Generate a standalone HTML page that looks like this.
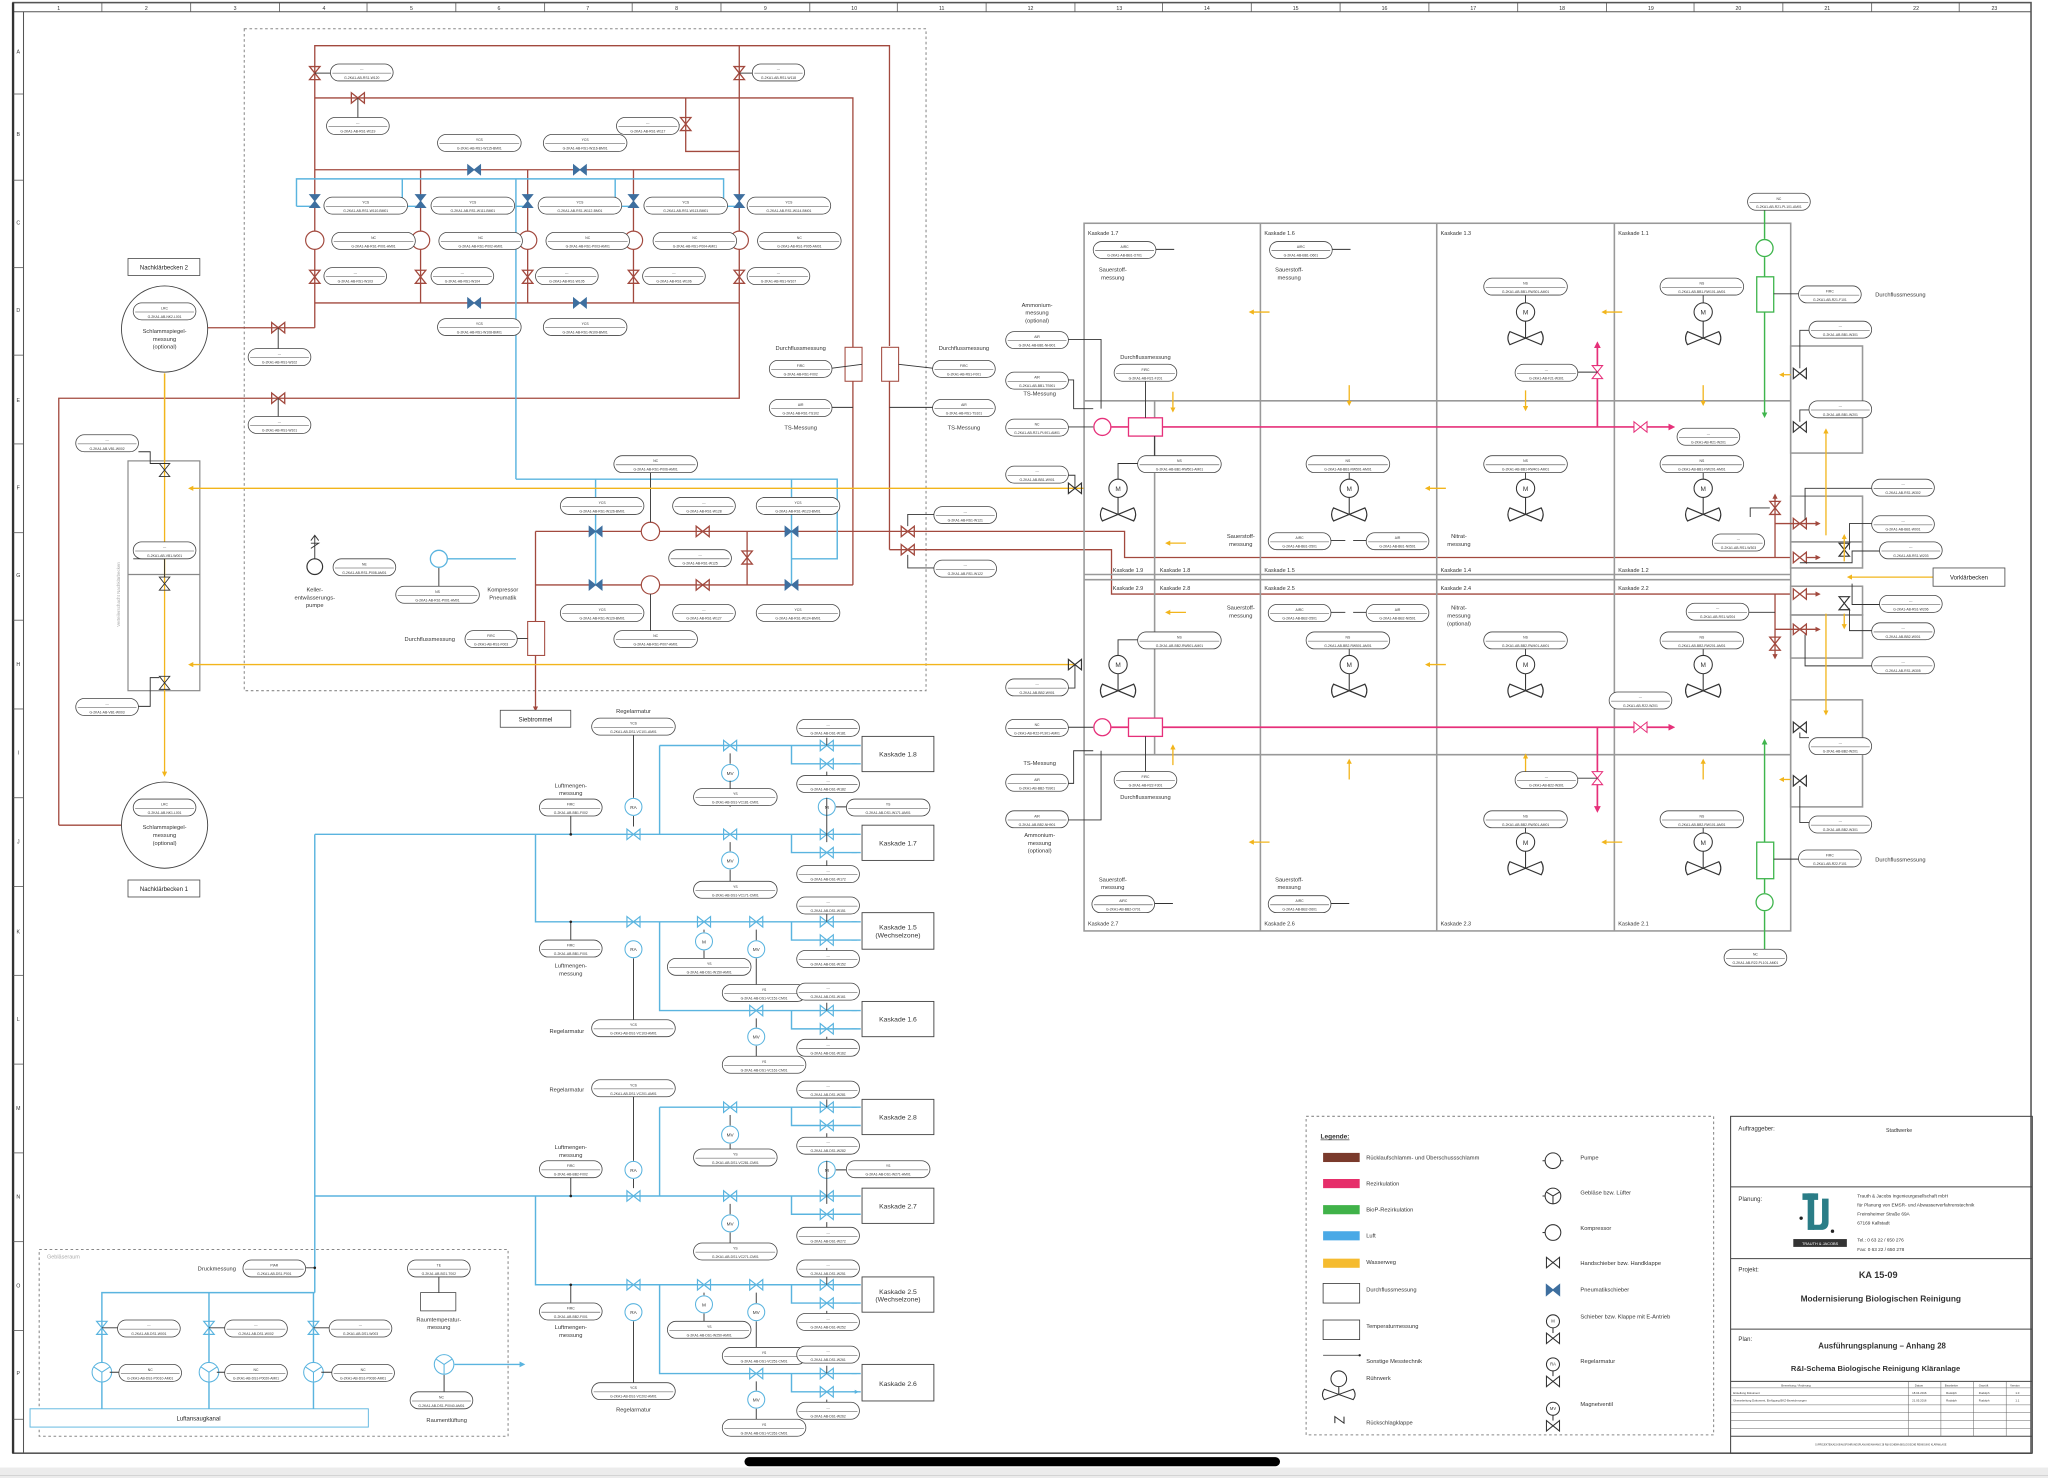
<!DOCTYPE html>
<html><head><meta charset="utf-8"><style>
html,body{margin:0;padding:0;background:#fff;}
svg{display:block;}
text{font-family:"Liberation Sans",sans-serif;fill:#333;}
.s{font-size:2.6px;text-anchor:middle;}
.l{font-size:4.6px;text-anchor:middle;fill:#222;}
.g{font-size:4.2px;fill:#aaa;}
.r{font-size:4.4px;text-anchor:middle;fill:#333;}
.k{font-size:5.2px;text-anchor:middle;fill:#222;}
.br{stroke:#a2493e;fill:none;stroke-width:1;}
.bl{stroke:#5ab4df;fill:none;stroke-width:1.1;}
.ye{stroke:#f2b51c;fill:none;stroke-width:1;}
.pk{stroke:#e6307a;fill:none;stroke-width:1.3;}
.gn{stroke:#3fb54d;fill:none;stroke-width:1.1;}
.gy{stroke:#999;fill:none;stroke-width:1.2;}
.bk{stroke:#333;fill:none;stroke-width:0.7;}
</style></head><body>
<svg width="2048" height="1478" viewBox="0 0 1568 1132" preserveAspectRatio="none" xmlns="http://www.w3.org/2000/svg">
<defs>
<g id="tg"><rect x="0" y="0" width="48" height="13" rx="6.5" fill="#fff" stroke="#444" stroke-width="0.6"/><line x1="1.5" y1="7" x2="46.5" y2="7" stroke="#444" stroke-width="0.4"/></g>
<g id="tg64"><rect x="0" y="0" width="64" height="13" rx="6.5" fill="#fff" stroke="#444" stroke-width="0.6"/><line x1="1.5" y1="7" x2="62.5" y2="7" stroke="#444" stroke-width="0.4"/></g>
<g id="tg40"><rect x="0" y="0" width="40" height="13" rx="6.5" fill="#fff" stroke="#444" stroke-width="0.6"/><line x1="1.5" y1="7" x2="38.5" y2="7" stroke="#444" stroke-width="0.4"/></g>
<path id="vh" d="M-5,-4L5,4V-4L-5,4Z"/>
<path id="vv" d="M-4,-5L4,5H-4L4,-5Z"/>
<g id="ag"><circle cx="0" cy="0" r="7" fill="#fff" stroke="#333" stroke-width="0.8"/><text x="0" y="2" style="font-size:5px;text-anchor:middle">M</text><line x1="0" y1="7" x2="0" y2="20" stroke="#333" stroke-width="0.8"/><path d="M0,20L-12,15Q-15,20 -12,25Z M0,20L12,15Q15,20 12,25Z" fill="none" stroke="#333" stroke-width="0.9"/></g>
<marker id="ay" viewBox="0 0 6 6" refX="3" refY="3" markerWidth="4" markerHeight="4" orient="auto"><path d="M0,0L6,3L0,6Z" fill="#f2b51c"/></marker>
<marker id="ab" viewBox="0 0 6 6" refX="3" refY="3" markerWidth="4" markerHeight="4" orient="auto"><path d="M0,0L6,3L0,6Z" fill="#5ab4df"/></marker>
<marker id="ap" viewBox="0 0 6 6" refX="3" refY="3" markerWidth="4" markerHeight="4" orient="auto"><path d="M0,0L6,3L0,6Z" fill="#e6307a"/></marker>
<marker id="ar" viewBox="0 0 6 6" refX="3" refY="3" markerWidth="4" markerHeight="4" orient="auto"><path d="M0,0L6,3L0,6Z" fill="#a2493e"/></marker>
<marker id="ag2" viewBox="0 0 6 6" refX="3" refY="3" markerWidth="4" markerHeight="4" orient="auto"><path d="M0,0L6,3L0,6Z" fill="#3fb54d"/></marker>
</defs>

<!-- bottom band -->
<rect x="0" y="1124" width="1568" height="8" fill="#ececec"/>
<line x1="0" y1="1130" x2="1568" y2="1130" stroke="#ccc" stroke-width="0.6"/>
<rect x="570" y="1116" width="410" height="7" rx="3.5" fill="#000"/>

<!-- frame -->
<g stroke="#555" fill="none">
<rect x="10" y="2" width="1545" height="1111" stroke-width="1.2"/>
<line x1="10" y1="9" x2="1555" y2="9" stroke-width="0.8"/>
<line x1="18" y1="9" x2="18" y2="1113" stroke-width="0.8"/>
<line x1="10" y1="2" x2="10" y2="1113" stroke-width="1.8" stroke="#333"/>
</g>
<g stroke="#555" stroke-width="0.6">
<line x1="78" y1="2" x2="78" y2="9"/><line x1="146" y1="2" x2="146" y2="9"/><line x1="214" y1="2" x2="214" y2="9"/><line x1="281" y1="2" x2="281" y2="9"/><line x1="349" y1="2" x2="349" y2="9"/><line x1="417" y1="2" x2="417" y2="9"/><line x1="484" y1="2" x2="484" y2="9"/><line x1="552" y1="2" x2="552" y2="9"/><line x1="620" y1="2" x2="620" y2="9"/><line x1="687" y1="2" x2="687" y2="9"/><line x1="755" y1="2" x2="755" y2="9"/><line x1="823" y1="2" x2="823" y2="9"/><line x1="890" y1="2" x2="890" y2="9"/><line x1="958" y1="2" x2="958" y2="9"/><line x1="1026" y1="2" x2="1026" y2="9"/><line x1="1094" y1="2" x2="1094" y2="9"/><line x1="1162" y1="2" x2="1162" y2="9"/><line x1="1230" y1="2" x2="1230" y2="9"/><line x1="1297" y1="2" x2="1297" y2="9"/><line x1="1365" y1="2" x2="1365" y2="9"/><line x1="1433" y1="2" x2="1433" y2="9"/><line x1="1500" y1="2" x2="1500" y2="9"/>
<line x1="10" y1="72" x2="18" y2="72"/><line x1="10" y1="138" x2="18" y2="138"/><line x1="10" y1="205" x2="18" y2="205"/><line x1="10" y1="272" x2="18" y2="272"/><line x1="10" y1="340" x2="18" y2="340"/><line x1="10" y1="408" x2="18" y2="408"/><line x1="10" y1="475" x2="18" y2="475"/><line x1="10" y1="543" x2="18" y2="543"/><line x1="10" y1="611" x2="18" y2="611"/><line x1="10" y1="679" x2="18" y2="679"/><line x1="10" y1="747" x2="18" y2="747"/><line x1="10" y1="815" x2="18" y2="815"/><line x1="10" y1="883" x2="18" y2="883"/><line x1="10" y1="951" x2="18" y2="951"/><line x1="10" y1="1019" x2="18" y2="1019"/><line x1="10" y1="1087" x2="18" y2="1087"/>
</g>
<g style="font-size:4px;text-anchor:middle">
<text x="45" y="7.5">1</text><text x="112" y="7.5">2</text><text x="180" y="7.5">3</text><text x="248" y="7.5">4</text><text x="315" y="7.5">5</text><text x="382" y="7.5">6</text><text x="450" y="7.5">7</text><text x="518" y="7.5">8</text><text x="586" y="7.5">9</text><text x="654" y="7.5">10</text><text x="721" y="7.5">11</text><text x="789" y="7.5">12</text><text x="857" y="7.5">13</text><text x="924" y="7.5">14</text><text x="992" y="7.5">15</text><text x="1060" y="7.5">16</text><text x="1128" y="7.5">17</text><text x="1196" y="7.5">18</text><text x="1264" y="7.5">19</text><text x="1331" y="7.5">20</text><text x="1399" y="7.5">21</text><text x="1467" y="7.5">22</text><text x="1527" y="7.5">23</text>
<text x="14" y="41">A</text><text x="14" y="104">B</text><text x="14" y="172">C</text><text x="14" y="239">D</text><text x="14" y="308">E</text><text x="14" y="375">F</text><text x="14" y="442">G</text><text x="14" y="510">H</text><text x="14" y="578">I</text><text x="14" y="646">J</text><text x="14" y="715">K</text><text x="14" y="782">L</text><text x="14" y="850">M</text><text x="14" y="918">N</text><text x="14" y="986">O</text><text x="14" y="1053">P</text>
</g>

<!-- ================= RS1 dashed area ================= -->
<rect x="187" y="22" width="522" height="507" fill="none" stroke="#888" stroke-width="0.8" stroke-dasharray="2,2"/>

<!-- brown lines top -->
<g class="br">
<path d="M241,251V35H681V265M681,292V421"/>
<path d="M566,35V232"/>
<path d="M241,75H653V266M653,292V448"/>
<path d="M525,75V116H566"/>
<path d="M241,130H566"/>
<path d="M241,232H566"/>
<line x1="322" y1="130" x2="322" y2="232"/><line x1="404" y1="130" x2="404" y2="232"/><line x1="485" y1="130" x2="485" y2="232"/>
<path d="M159,251H241"/>
<path d="M45,632V305H566V232"/>
<path d="M45,632H93"/>
<path d="M410,407V476M410,502V540"/>
<path d="M410,407H861V427H1371"/>
<path d="M410,448H653"/>
<path d="M681,421H851V455H1371"/>
<path d="M572,407V448"/>
</g>
<!-- flow meters -->
<rect x="647" y="266" width="13" height="26" fill="#fff" stroke="#a2493e" stroke-width="0.8"/>
<rect x="675" y="266" width="13" height="26" fill="#fff" stroke="#a2493e" stroke-width="0.8"/>
<rect x="404" y="476" width="13" height="26" fill="#fff" stroke="#a2493e" stroke-width="0.8"/>
<line x1="410" y1="540" x2="410" y2="543" stroke="#a2493e" marker-end="url(#ar)"/>
<!-- brown valves -->
<g class="br" fill="#fff">
<use href="#vv" x="241" y="56"/><use href="#vv" x="566" y="56"/>
<use href="#vh" x="274" y="75"/><use href="#vv" x="525" y="95"/>
<use href="#vv" x="241" y="212"/><use href="#vv" x="322" y="212"/><use href="#vv" x="404" y="212"/><use href="#vv" x="485" y="212"/><use href="#vv" x="566" y="212"/>
<use href="#vh" x="213" y="251"/><use href="#vh" x="213" y="305"/>
<use href="#vh" x="538" y="407"/><use href="#vh" x="538" y="448"/><use href="#vv" x="572" y="427"/>
<use href="#vh" x="695" y="407"/><use href="#vh" x="695" y="421"/>
</g>
<!-- pumps -->
<g fill="#fff" stroke="#a2493e" stroke-width="0.9">
<circle cx="241" cy="184" r="7"/><circle cx="322" cy="184" r="7"/><circle cx="404" cy="184" r="7"/><circle cx="485" cy="184" r="7"/><circle cx="566" cy="184" r="7"/>
<circle cx="498" cy="407" r="7"/><circle cx="498" cy="448" r="7"/>
</g>
<!-- blue air lines top -->
<g class="bl">
<path d="M227,158V137H554V158"/>
<path d="M308,137V158M395,137V367M471,137V158"/>
<path d="M227,158H241M308,158H322M395,158H404M471,158H485M554,158H566"/>
<path d="M395,367H641V428H606"/>
<path d="M456,367V448M606,367V448"/>
<path d="M342,428H395"/>
<path d="M241,639V990"/>
</g>
<circle cx="336" cy="428" r="6.5" fill="#fff" stroke="#5ab4df" stroke-width="1"/>
<!-- pneumatic valves -->
<g fill="#3e6f9f" stroke="#3e6f9f" stroke-width="0.6">
<use href="#vh" x="363" y="130"/><use href="#vh" x="444" y="130"/><use href="#vh" x="363" y="232"/><use href="#vh" x="444" y="232"/>
<use href="#vv" x="241" y="154"/><use href="#vv" x="322" y="154"/><use href="#vv" x="404" y="154"/><use href="#vv" x="485" y="154"/><use href="#vv" x="566" y="154"/>
<use href="#vh" x="456" y="407"/><use href="#vh" x="606" y="407"/><use href="#vh" x="456" y="448"/><use href="#vh" x="606" y="448"/>
</g>
<!-- keller pump -->
<circle cx="241" cy="434" r="6" fill="#fff" stroke="#333" stroke-width="0.9"/>
<path d="M241,428V410M238,414L241,410L244,414M238,420L244,416L238,416" class="bk"/>
<text class="r" x="241" y="453">Keller-</text><text class="r" x="241" y="459">entwässerungs-</text><text class="r" x="241" y="465">pumpe</text>
<text class="r" x="385" y="453">Kompressor</text><text class="r" x="385" y="459">Pneumatik</text>

<!-- tag lines top -->
<g class="bk">
<line x1="241" y1="56" x2="253" y2="56"/><line x1="566" y1="56" x2="576" y2="56"/>
<line x1="274" y1="75" x2="274" y2="90"/><line x1="520" y1="95" x2="520" y2="96"/>
<line x1="213" y1="251" x2="213" y2="267"/><line x1="213" y1="305" x2="213" y2="319"/>
<line x1="498" y1="362" x2="498" y2="400"/><line x1="498" y1="455" x2="498" y2="483"/>
<line x1="660" y1="279" x2="637" y2="282"/><line x1="688" y1="279" x2="714" y2="282"/>
<line x1="637" y1="312" x2="653" y2="312"/><line x1="681" y1="312" x2="714" y2="312"/>
<line x1="396" y1="489" x2="404" y2="489"/>
<line x1="336" y1="435" x2="336" y2="449"/>
</g>

<!-- tags RS1 -->
<g transform="translate(253,49)"><use href="#tg"/><text class="s" x="24" y="5">---</text><text class="s" x="24" y="11.5">G-2KA1-AB-RS1-W120</text></g>
<g transform="translate(576,49)"><use href="#tg40"/><text class="s" x="20" y="5">---</text><text class="s" x="20" y="11.5">G-2KA1-AB-RS1-W118</text></g>
<g transform="translate(250,90)"><use href="#tg"/><text class="s" x="24" y="5">---</text><text class="s" x="24" y="11.5">G-2KA1-AB-RS1-W119</text></g>
<g transform="translate(472,90)"><use href="#tg"/><text class="s" x="24" y="5">---</text><text class="s" x="24" y="11.5">G-2KA1-AB-RS1-W117</text></g>
<g transform="translate(335,103)"><use href="#tg64"/><text class="s" x="32" y="5">YCS</text><text class="s" x="32" y="11.5">G-2KA1-AB-RS1-W115-BM01</text></g>
<g transform="translate(416,103)"><use href="#tg64"/><text class="s" x="32" y="5">YCS</text><text class="s" x="32" y="11.5">G-2KA1-AB-RS1-W116-BM01</text></g>
<g transform="translate(248,151)"><use href="#tg64"/><text class="s" x="32" y="5">YCS</text><text class="s" x="32" y="11.5">G-2KA1-AB-RS1-W110-BM01</text></g>
<g transform="translate(330,151)"><use href="#tg64"/><text class="s" x="32" y="5">YCS</text><text class="s" x="32" y="11.5">G-2KA1-AB-RS1-W111-BM01</text></g>
<g transform="translate(412,151)"><use href="#tg64"/><text class="s" x="32" y="5">YCS</text><text class="s" x="32" y="11.5">G-2KA1-AB-RS1-W112-BM01</text></g>
<g transform="translate(493,151)"><use href="#tg64"/><text class="s" x="32" y="5">YCS</text><text class="s" x="32" y="11.5">G-2KA1-AB-RS1-W113-BM01</text></g>
<g transform="translate(572,151)"><use href="#tg64"/><text class="s" x="32" y="5">YCS</text><text class="s" x="32" y="11.5">G-2KA1-AB-RS1-W114-BM01</text></g>
<g transform="translate(254,178)"><use href="#tg64"/><text class="s" x="32" y="5">NC</text><text class="s" x="32" y="11.5">G-2KA1-AB-RS1-P001-AM01</text></g>
<g transform="translate(336,178)"><use href="#tg64"/><text class="s" x="32" y="5">NC</text><text class="s" x="32" y="11.5">G-2KA1-AB-RS1-P002-AM01</text></g>
<g transform="translate(418,178)"><use href="#tg64"/><text class="s" x="32" y="5">NC</text><text class="s" x="32" y="11.5">G-2KA1-AB-RS1-P003-AM01</text></g>
<g transform="translate(500,178)"><use href="#tg64"/><text class="s" x="32" y="5">NC</text><text class="s" x="32" y="11.5">G-2KA1-AB-RS1-P004-AM01</text></g>
<g transform="translate(580,178)"><use href="#tg64"/><text class="s" x="32" y="5">NC</text><text class="s" x="32" y="11.5">G-2KA1-AB-RS1-P005-AM01</text></g>
<g transform="translate(248,205)"><use href="#tg"/><text class="s" x="24" y="5">---</text><text class="s" x="24" y="11.5">G-2KA1-AB-RS1-W103</text></g>
<g transform="translate(330,205)"><use href="#tg"/><text class="s" x="24" y="5">---</text><text class="s" x="24" y="11.5">G-2KA1-AB-RS1-W104</text></g>
<g transform="translate(410,205)"><use href="#tg"/><text class="s" x="24" y="5">---</text><text class="s" x="24" y="11.5">G-2KA1-AB-RS1-W105</text></g>
<g transform="translate(492,205)"><use href="#tg"/><text class="s" x="24" y="5">---</text><text class="s" x="24" y="11.5">G-2KA1-AB-RS1-W106</text></g>
<g transform="translate(572,205)"><use href="#tg"/><text class="s" x="24" y="5">---</text><text class="s" x="24" y="11.5">G-2KA1-AB-RS1-W107</text></g>
<g transform="translate(335,244)"><use href="#tg64"/><text class="s" x="32" y="5">YCS</text><text class="s" x="32" y="11.5">G-2KA1-AB-RS1-W108-BM01</text></g>
<g transform="translate(416,244)"><use href="#tg64"/><text class="s" x="32" y="5">YCS</text><text class="s" x="32" y="11.5">G-2KA1-AB-RS1-W109-BM01</text></g>
<g transform="translate(190,267)"><use href="#tg"/><text class="s" x="24" y="5">---</text><text class="s" x="24" y="11.5">G-2KA1-AB-RS1-W102</text></g>
<g transform="translate(190,319)"><use href="#tg"/><text class="s" x="24" y="5">---</text><text class="s" x="24" y="11.5">G-2KA1-AB-RS1-W101</text></g>
<g transform="translate(589,276)"><use href="#tg"/><text class="s" x="24" y="5">FIRC</text><text class="s" x="24" y="11.5">G-2KA1-AB-RS1-F002</text></g>
<g transform="translate(589,306)"><use href="#tg"/><text class="s" x="24" y="5">AIR</text><text class="s" x="24" y="11.5">G-2KA1-AB-RS1-TS102</text></g>
<g transform="translate(714,276)"><use href="#tg"/><text class="s" x="24" y="5">FIRC</text><text class="s" x="24" y="11.5">G-2KA1-AB-RS1-F001</text></g>
<g transform="translate(714,306)"><use href="#tg"/><text class="s" x="24" y="5">AIR</text><text class="s" x="24" y="11.5">G-2KA1-AB-RS1-TS101</text></g>
<text class="r" x="613" y="268">Durchflussmessung</text><text class="r" x="738" y="268">Durchflussmessung</text>
<text class="r" x="613" y="329">TS-Messung</text><text class="r" x="738" y="329">TS-Messung</text>
<g transform="translate(470,349)"><use href="#tg64"/><text class="s" x="32" y="5">NC</text><text class="s" x="32" y="11.5">G-2KA1-AB-RS1-P006-AM01</text></g>
<g transform="translate(429,381)"><use href="#tg64"/><text class="s" x="32" y="5">YCS</text><text class="s" x="32" y="11.5">G-2KA1-AB-RS1-W126-BM01</text></g>
<g transform="translate(515,381)"><use href="#tg"/><text class="s" x="24" y="5">---</text><text class="s" x="24" y="11.5">G-2KA1-AB-RS1-W128</text></g>
<g transform="translate(579,381)"><use href="#tg64"/><text class="s" x="32" y="5">YCS</text><text class="s" x="32" y="11.5">G-2KA1-AB-RS1-W123-BM01</text></g>
<g transform="translate(512,421)"><use href="#tg"/><text class="s" x="24" y="5">---</text><text class="s" x="24" y="11.5">G-2KA1-AB-RS1-W125</text></g>
<g transform="translate(429,463)"><use href="#tg64"/><text class="s" x="32" y="5">YCS</text><text class="s" x="32" y="11.5">G-2KA1-AB-RS1-W129-BM01</text></g>
<g transform="translate(515,463)"><use href="#tg"/><text class="s" x="24" y="5">---</text><text class="s" x="24" y="11.5">G-2KA1-AB-RS1-W127</text></g>
<g transform="translate(579,463)"><use href="#tg64"/><text class="s" x="32" y="5">YCS</text><text class="s" x="32" y="11.5">G-2KA1-AB-RS1-W124-BM01</text></g>
<g transform="translate(470,483)"><use href="#tg64"/><text class="s" x="32" y="5">NC</text><text class="s" x="32" y="11.5">G-2KA1-AB-RS1-P007-AM01</text></g>
<g transform="translate(255,428)"><use href="#tg"/><text class="s" x="24" y="5">NE</text><text class="s" x="24" y="11.5">G-2KA1-AB-RS1-P008-AM01</text></g>
<g transform="translate(303,449)"><use href="#tg64"/><text class="s" x="32" y="5">NS</text><text class="s" x="32" y="11.5">G-2KA1-AB-RS1-P001-AM01</text></g>
<g transform="translate(356,483)"><use href="#tg40"/><text class="s" x="20" y="5">FIRC</text><text class="s" x="20" y="11.5">G-2KA1-AB-RS1-F003</text></g>
<text class="r" x="329" y="491">Durchflussmessung</text>
<g transform="translate(715,388)"><use href="#tg"/><text class="s" x="24" y="5">---</text><text class="s" x="24" y="11.5">G-2KA1-AB-RS1-W121</text></g>
<g transform="translate(715,429)"><use href="#tg"/><text class="s" x="24" y="5">---</text><text class="s" x="24" y="11.5">G-2KA1-AB-RS1-W122</text></g>
<path d="M695,403V394H715M695,425V435H715" class="bk"/>

<!-- Siebtrommel -->
<rect x="383" y="544" width="54" height="13" fill="#fff" stroke="#444" stroke-width="0.6"/>
<text class="l" x="410" y="552.5">Siebtrommel</text>

<!-- Nachklärbecken left -->
<rect x="98" y="198" width="55" height="13" fill="#fff" stroke="#444" stroke-width="0.6"/><text class="l" x="125.5" y="206.5">Nachklärbecken 2</text>
<circle cx="126" cy="252" r="33" fill="#fff" stroke="#444" stroke-width="0.7"/>
<g transform="translate(102,232)"><use href="#tg"/><text class="s" x="24" y="5">LRC</text><text class="s" x="24" y="11.5">G-2KA1-AB-NK2-L001</text></g>
<text class="r" x="126" y="255">Schlammspiegel-</text><text class="r" x="126" y="261">messung</text><text class="r" x="126" y="267">(optional)</text>
<rect x="98" y="674" width="55" height="13" fill="#fff" stroke="#444" stroke-width="0.6"/><text class="l" x="125.5" y="682.5">Nachklärbecken 1</text>
<circle cx="126" cy="632" r="33" fill="#fff" stroke="#444" stroke-width="0.7"/>
<g transform="translate(102,612)"><use href="#tg"/><text class="s" x="24" y="5">LRC</text><text class="s" x="24" y="11.5">G-2KA1-AB-NK1-L001</text></g>
<text class="r" x="126" y="635">Schlammspiegel-</text><text class="r" x="126" y="641">messung</text><text class="r" x="126" y="647">(optional)</text>
<!-- verteilerschacht -->
<rect x="98" y="353" width="55" height="176" fill="none" stroke="#888" stroke-width="0.9"/>
<line x1="98" y1="440" x2="153" y2="440" stroke="#888" stroke-width="0.9"/>
<text class="g" transform="translate(92,480) rotate(-90)" style="font-size:3.4px">Verteilerschacht Nachklärbecken</text>
<g class="ye"><path d="M126,286V529M126,529V593" marker-end="url(#ay)"/><path d="M126,286V353"/></g>
<line x1="830" y1="374" x2="146" y2="374" class="ye" marker-end="url(#ay)"/>
<line x1="823" y1="509" x2="146" y2="509" class="ye" marker-end="url(#ay)"/>
<g class="bk" fill="#fff"><use href="#vv" x="126" y="360"/><use href="#vv" x="126" y="447"/><use href="#vv" x="126" y="523"/></g>
<path d="M106,346H115V355H122M102,428H126V442M106,541H115V519H122" class="bk"/>
<g transform="translate(58,333)"><use href="#tg"/><text class="s" x="24" y="5">---</text><text class="s" x="24" y="11.5">G-2KA1-AB-VB1-W002</text></g>
<g transform="translate(102,415)"><use href="#tg"/><text class="s" x="24" y="5">---</text><text class="s" x="24" y="11.5">G-2KA1-AB-VB1-W001</text></g>
<g transform="translate(58,535)"><use href="#tg"/><text class="s" x="24" y="5">---</text><text class="s" x="24" y="11.5">G-2KA1-AB-VB1-W003</text></g>

<!-- ================= Cascade grid ================= -->
<g class="gy">
<rect x="830" y="171" width="541" height="542"/>
<line x1="965" y1="171" x2="965" y2="713"/><line x1="1100" y1="171" x2="1100" y2="713"/><line x1="1236" y1="171" x2="1236" y2="713"/>
<line x1="830" y1="307" x2="1371" y2="307"/><line x1="830" y1="440" x2="1371" y2="440"/><line x1="830" y1="444" x2="1371" y2="444"/><line x1="830" y1="578" x2="1371" y2="578"/>
<line x1="884" y1="307" x2="884" y2="578"/>
<rect x="1371" y="265" width="55" height="82"/><rect x="1371" y="380" width="55" height="35"/><rect x="1371" y="415" width="55" height="20"/>
<rect x="1371" y="449" width="55" height="22"/><rect x="1371" y="471" width="55" height="33"/><rect x="1371" y="536" width="55" height="82"/>
</g>
<g class="g">
<text x="833" y="180">Kaskade 1.7</text><text x="968" y="180">Kaskade 1.6</text><text x="1103" y="180">Kaskade 1.3</text><text x="1239" y="180">Kaskade 1.1</text>
<text x="852" y="438">Kaskade 1.9</text><text x="888" y="438">Kaskade 1.8</text><text x="968" y="438">Kaskade 1.5</text><text x="1103" y="438">Kaskade 1.4</text><text x="1239" y="438">Kaskade 1.2</text>
<text x="852" y="452">Kaskade 2.9</text><text x="888" y="452">Kaskade 2.8</text><text x="968" y="452">Kaskade 2.5</text><text x="1103" y="452">Kaskade 2.4</text><text x="1239" y="452">Kaskade 2.2</text>
<text x="833" y="709">Kaskade 2.7</text><text x="968" y="709">Kaskade 2.6</text><text x="1103" y="709">Kaskade 2.3</text><text x="1239" y="709">Kaskade 2.1</text>
</g>
<!-- pink recirculation -->
<g class="pk">
<path d="M851,327H864M890,327H1280" marker-end="url(#ap)"/>
<path d="M1223,327V264" marker-end="url(#ap)"/>
<path d="M851,557H864M890,557H1280" marker-end="url(#ap)"/>
<path d="M1223,557V620" marker-end="url(#ap)"/>
</g>
<circle cx="844" cy="327" r="6.5" fill="#fff" stroke="#e6307a" stroke-width="1"/>
<circle cx="844" cy="557" r="6.5" fill="#fff" stroke="#e6307a" stroke-width="1"/>
<rect x="864" y="320" width="26" height="14" fill="#fff" stroke="#e6307a" stroke-width="1"/>
<rect x="864" y="550" width="26" height="14" fill="#fff" stroke="#e6307a" stroke-width="1"/>
<g stroke="#e6307a" fill="#fff" stroke-width="0.8"><use href="#vh" x="1256" y="327"/><use href="#vh" x="1256" y="557"/><use href="#vv" x="1223" y="285"/><use href="#vv" x="1223" y="596"/></g>
<!-- green -->
<g class="gn">
<path d="M1351,159V183M1351,197V212M1351,239V318" marker-end="url(#ag2)"/>
<path d="M1351,727V698M1351,684V673M1351,645V568" marker-end="url(#ag2)"/>
</g>
<circle cx="1351" cy="190" r="6.5" fill="#fff" stroke="#3fb54d" stroke-width="1"/>
<circle cx="1351" cy="691" r="6.5" fill="#fff" stroke="#3fb54d" stroke-width="1"/>
<rect x="1345" y="212" width="13" height="27" fill="#fff" stroke="#3fb54d" stroke-width="1"/>
<rect x="1345" y="645" width="13" height="28" fill="#fff" stroke="#3fb54d" stroke-width="1"/>
<!-- agitators -->
<use href="#ag" x="1168" y="239"/><use href="#ag" x="1304" y="239"/>
<use href="#ag" x="856" y="374"/><use href="#ag" x="1033" y="374"/><use href="#ag" x="1168" y="374"/><use href="#ag" x="1304" y="374"/>
<use href="#ag" x="856" y="509"/><use href="#ag" x="1033" y="509"/><use href="#ag" x="1168" y="509"/><use href="#ag" x="1304" y="509"/>
<use href="#ag" x="1168" y="645"/><use href="#ag" x="1304" y="645"/>
<g class="bk">
<line x1="1168" y1="226" x2="1168" y2="232"/><line x1="1304" y1="226" x2="1304" y2="232"/>
<path d="M871,355H856V367M1033,362V367M1168,362V367M1304,362V367"/>
<path d="M871,490H856V502M1033,497V502M1168,497V502M1304,497V502"/>
<line x1="1168" y1="634" x2="1168" y2="638"/><line x1="1304" y1="634" x2="1304" y2="638"/>
<line x1="877" y1="292" x2="877" y2="320"/><line x1="877" y1="564" x2="877" y2="591"/><line x1="884" y1="334" x2="884" y2="349"/>
<line x1="885" y1="191" x2="899" y2="191"/><line x1="1020" y1="191" x2="1034" y2="191"/>
<line x1="884" y1="692" x2="898" y2="692"/><line x1="1019" y1="692" x2="1033" y2="692"/>
<line x1="1019" y1="414" x2="1030" y2="414"/><line x1="1036" y1="414" x2="1046" y2="414"/>
<line x1="1019" y1="469" x2="1030" y2="469"/><line x1="1036" y1="469" x2="1046" y2="469"/>
<line x1="1358" y1="225" x2="1377" y2="225"/><line x1="1358" y1="658" x2="1377" y2="658"/>
<path d="M1351,159V161"/>
<path d="M818,260H843V313M818,291H822V313H837M818,327H837M818,364H823V374M818,527H823V509"/>
<path d="M818,557H837M818,600H822V575H837M818,628H843V575"/>
<path d="M1208,285H1223M1208,596H1223"/>
</g>
<!-- black valves in grid edges -->
<g class="bk" fill="#fff" style="stroke-width:0.9">
<use href="#vh" x="823" y="374"/><use href="#vh" x="823" y="509"/>
<use href="#vh" x="1378" y="286"/><use href="#vh" x="1378" y="327"/><use href="#vh" x="1378" y="557"/><use href="#vh" x="1378" y="598"/>
<use href="#vv" x="1412" y="421"/><use href="#vv" x="1412" y="462"/>
</g>
<path d="M1385,253H1378V282M1385,314H1378V323M1385,565H1378V561M1385,630H1378V602" class="bk"/>
<!-- brown right valves -->
<g class="br" fill="#fff">
<use href="#vh" x="1378" y="401"/><use href="#vh" x="1378" y="427"/><use href="#vh" x="1378" y="455"/><use href="#vh" x="1378" y="482"/>
<use href="#vv" x="1359" y="389"/><use href="#vv" x="1359" y="493"/>
</g>
<g class="br">
<path d="M1359,427V380" marker-end="url(#ar)"/><path d="M1359,455V503" marker-end="url(#ar)"/>
<path d="M1359,401H1392" marker-end="url(#ar)"/><path d="M1383,427H1392" marker-end="url(#ar)"/>
<path d="M1383,455H1392" marker-end="url(#ar)"/><path d="M1359,482H1392" marker-end="url(#ar)"/>
</g>
<path d="M1433,374H1382V398M1433,401H1416V421M1439,422H1418V431H1378M1439,463H1418V447M1433,483H1416V466M1433,510H1382V486M1340,396V389H1355M1335,469H1359" class="bk"/>
<!-- yellow right -->
<g class="ye">
<path d="M1480,442H1416" marker-end="url(#ay)"/>
<path d="M1398,410V330" marker-end="url(#ay)"/>
<path d="M1398,470V546" marker-end="url(#ay)"/>
<path d="M1412,430V411" marker-end="url(#ay)"/>
<path d="M1412,470V480" marker-end="url(#ay)"/>
<path d="M1371,287H1364" marker-end="url(#ay)"/>
<path d="M1371,597H1364" marker-end="url(#ay)"/>
</g>
<!-- yellow arrows in cells -->
<g class="ye">
<path d="M972,239H958" marker-end="url(#ay)"/><path d="M1242,239H1228" marker-end="url(#ay)"/>
<path d="M1107,374H1093" marker-end="url(#ay)"/><path d="M908,416H894" marker-end="url(#ay)"/>
<path d="M908,469H894" marker-end="url(#ay)"/><path d="M1107,509H1093" marker-end="url(#ay)"/>
<path d="M972,645H958" marker-end="url(#ay)"/><path d="M1242,645H1228" marker-end="url(#ay)"/>
<path d="M1033,295V309" marker-end="url(#ay)"/><path d="M1168,299V313" marker-end="url(#ay)"/><path d="M1304,295V309" marker-end="url(#ay)"/>
<path d="M898,300V314" marker-end="url(#ay)"/>
<path d="M898,586V572" marker-end="url(#ay)"/><path d="M1033,597V583" marker-end="url(#ay)"/><path d="M1168,593V579" marker-end="url(#ay)"/><path d="M1304,597V583" marker-end="url(#ay)"/>
</g>
<!-- Vorklärbecken -->
<rect x="1480" y="435" width="55" height="14" fill="#fff" stroke="#444" stroke-width="0.6"/><text class="l" x="1507.5" y="444">Vorklärbecken</text>
<!-- grid tags -->
<g transform="translate(837,185)"><use href="#tg"/><text class="s" x="24" y="5">AIRC</text><text class="s" x="24" y="11.5">G-2KA1-AB-BB1-O701</text></g>
<g transform="translate(972,185)"><use href="#tg"/><text class="s" x="24" y="5">AIRC</text><text class="s" x="24" y="11.5">G-2KA1-AB-BB1-O601</text></g>
<text class="r" x="852" y="208">Sauerstoff-</text><text class="r" x="852" y="214">messung</text>
<text class="r" x="987" y="208">Sauerstoff-</text><text class="r" x="987" y="214">messung</text>
<g transform="translate(1136,213)"><use href="#tg64"/><text class="s" x="32" y="5">NS</text><text class="s" x="32" y="11.5">G-2KA1-AB-BB1-RW301-AM01</text></g>
<g transform="translate(1271,213)"><use href="#tg64"/><text class="s" x="32" y="5">NS</text><text class="s" x="32" y="11.5">G-2KA1-AB-BB1-RW101-AM01</text></g>
<g transform="translate(1338,148)"><use href="#tg"/><text class="s" x="24" y="5">NC</text><text class="s" x="24" y="11.5">G-2KA1-AB-R21-PL101-AM01</text></g>
<g transform="translate(1377,219)"><use href="#tg"/><text class="s" x="24" y="5">FIRC</text><text class="s" x="24" y="11.5">G-2KA1-AB-R21-F101</text></g>
<text class="r" x="1455" y="227">Durchflussmessung</text>
<g transform="translate(1385,246)"><use href="#tg"/><text class="s" x="24" y="5">---</text><text class="s" x="24" y="11.5">G-2KA1-AB-BB1-W301</text></g>
<g transform="translate(1385,307)"><use href="#tg"/><text class="s" x="24" y="5">---</text><text class="s" x="24" y="11.5">G-2KA1-AB-BB1-W201</text></g>
<g transform="translate(853,279)"><use href="#tg"/><text class="s" x="24" y="5">FIRC</text><text class="s" x="24" y="11.5">G-2KA1-AB-R21-F201</text></g>
<text class="r" x="877" y="275">Durchflussmessung</text>
<g transform="translate(1160,279)"><use href="#tg"/><text class="s" x="24" y="5">---</text><text class="s" x="24" y="11.5">G-2KA1-AB-F21-W301</text></g>
<g transform="translate(1284,328)"><use href="#tg"/><text class="s" x="24" y="5">---</text><text class="s" x="24" y="11.5">G-2KA1-AB-R21-W201</text></g>
<g transform="translate(871,349)"><use href="#tg64"/><text class="s" x="32" y="5">NS</text><text class="s" x="32" y="11.5">G-2KA1-AB-BB1-RW501-AM01</text></g>
<g transform="translate(1000,349)"><use href="#tg64"/><text class="s" x="32" y="5">NS</text><text class="s" x="32" y="11.5">G-2KA1-AB-BB1-RW501-AM01</text></g>
<g transform="translate(1136,349)"><use href="#tg64"/><text class="s" x="32" y="5">NS</text><text class="s" x="32" y="11.5">G-2KA1-AB-BB1-RW401-AM01</text></g>
<g transform="translate(1271,349)"><use href="#tg64"/><text class="s" x="32" y="5">NS</text><text class="s" x="32" y="11.5">G-2KA1-AB-BB1-RW201-AM01</text></g>
<g transform="translate(971,408)"><use href="#tg"/><text class="s" x="24" y="5">AIRC</text><text class="s" x="24" y="11.5">G-2KA1-AB-BB1-O501</text></g>
<g transform="translate(1046,408)"><use href="#tg"/><text class="s" x="24" y="5">AIR</text><text class="s" x="24" y="11.5">G-2KA1-AB-BB1-N0501</text></g>
<text class="r" x="950" y="412">Sauerstoff-</text><text class="r" x="950" y="418">messung</text>
<text class="r" x="1117" y="412">Nitrat-</text><text class="r" x="1117" y="418">messung</text>
<g transform="translate(1311,409)"><use href="#tg40"/><text class="s" x="20" y="5">---</text><text class="s" x="20" y="11.5">G-2KA1-AB-RS1-W303</text></g>
<g transform="translate(1433,367)"><use href="#tg"/><text class="s" x="24" y="5">---</text><text class="s" x="24" y="11.5">G-2KA1-AB-RS1-W302</text></g>
<g transform="translate(1433,395)"><use href="#tg"/><text class="s" x="24" y="5">---</text><text class="s" x="24" y="11.5">G-2KA1-AB-BB1-W001</text></g>
<g transform="translate(1439,415)"><use href="#tg"/><text class="s" x="24" y="5">---</text><text class="s" x="24" y="11.5">G-2KA1-AB-RS1-W203</text></g>
<g transform="translate(1439,456)"><use href="#tg"/><text class="s" x="24" y="5">---</text><text class="s" x="24" y="11.5">G-2KA1-AB-RS1-W206</text></g>
<g transform="translate(1433,477)"><use href="#tg"/><text class="s" x="24" y="5">---</text><text class="s" x="24" y="11.5">G-2KA1-AB-BB2-W001</text></g>
<g transform="translate(1433,503)"><use href="#tg"/><text class="s" x="24" y="5">---</text><text class="s" x="24" y="11.5">G-2KA1-AB-RS1-W305</text></g>
<g transform="translate(971,463)"><use href="#tg"/><text class="s" x="24" y="5">AIRC</text><text class="s" x="24" y="11.5">G-2KA1-AB-BB2-O501</text></g>
<g transform="translate(1046,463)"><use href="#tg"/><text class="s" x="24" y="5">AIR</text><text class="s" x="24" y="11.5">G-2KA1-AB-BB2-N0501</text></g>
<text class="r" x="950" y="467">Sauerstoff-</text><text class="r" x="950" y="473">messung</text>
<text class="r" x="1117" y="467">Nitrat-</text><text class="r" x="1117" y="473">messung</text><text class="r" x="1117" y="479">(optional)</text>
<g transform="translate(1291,462)"><use href="#tg"/><text class="s" x="24" y="5">---</text><text class="s" x="24" y="11.5">G-2KA1-AB-RS1-W204</text></g>
<g transform="translate(871,484)"><use href="#tg64"/><text class="s" x="32" y="5">NS</text><text class="s" x="32" y="11.5">G-2KA1-AB-BB2-RW501-AM01</text></g>
<g transform="translate(1000,484)"><use href="#tg64"/><text class="s" x="32" y="5">NS</text><text class="s" x="32" y="11.5">G-2KA1-AB-BB2-RW501-AM01</text></g>
<g transform="translate(1136,484)"><use href="#tg64"/><text class="s" x="32" y="5">NS</text><text class="s" x="32" y="11.5">G-2KA1-AB-BB2-RW401-AM01</text></g>
<g transform="translate(1271,484)"><use href="#tg64"/><text class="s" x="32" y="5">NS</text><text class="s" x="32" y="11.5">G-2KA1-AB-BB2-RW201-AM01</text></g>
<g transform="translate(1232,530)"><use href="#tg"/><text class="s" x="24" y="5">---</text><text class="s" x="24" y="11.5">G-2KA1-AB-R22-W201</text></g>
<g transform="translate(1385,565)"><use href="#tg"/><text class="s" x="24" y="5">---</text><text class="s" x="24" y="11.5">G-2KA1-AB-BB2-W201</text></g>
<g transform="translate(853,591)"><use href="#tg"/><text class="s" x="24" y="5">FIRC</text><text class="s" x="24" y="11.5">G-2KA1-AB-R22-F301</text></g>
<text class="r" x="877" y="612">Durchflussmessung</text>
<g transform="translate(1160,591)"><use href="#tg"/><text class="s" x="24" y="5">---</text><text class="s" x="24" y="11.5">G-2KA1-AB-B22-W301</text></g>
<g transform="translate(1136,621)"><use href="#tg64"/><text class="s" x="32" y="5">NS</text><text class="s" x="32" y="11.5">G-2KA1-AB-BB2-RW301-AM01</text></g>
<g transform="translate(1271,621)"><use href="#tg64"/><text class="s" x="32" y="5">NS</text><text class="s" x="32" y="11.5">G-2KA1-AB-BB2-RW101-AM01</text></g>
<g transform="translate(1385,625)"><use href="#tg"/><text class="s" x="24" y="5">---</text><text class="s" x="24" y="11.5">G-2KA1-AB-BB2-W301</text></g>
<g transform="translate(1377,651)"><use href="#tg"/><text class="s" x="24" y="5">FIRC</text><text class="s" x="24" y="11.5">G-2KA1-AB-R22-F101</text></g>
<text class="r" x="1455" y="660">Durchflussmessung</text>
<g transform="translate(836,686)"><use href="#tg"/><text class="s" x="24" y="5">AIRC</text><text class="s" x="24" y="11.5">G-2KA1-AB-BB2-O701</text></g>
<g transform="translate(971,686)"><use href="#tg"/><text class="s" x="24" y="5">AIRC</text><text class="s" x="24" y="11.5">G-2KA1-AB-BB2-O601</text></g>
<text class="r" x="852" y="675">Sauerstoff-</text><text class="r" x="852" y="681">messung</text>
<text class="r" x="987" y="675">Sauerstoff-</text><text class="r" x="987" y="681">messung</text>
<g transform="translate(1320,727)"><use href="#tg"/><text class="s" x="24" y="5">NC</text><text class="s" x="24" y="11.5">G-2KA1-AB-R22-PL101-AM01</text></g>
<!-- left of grid tags -->
<text class="r" x="794" y="235">Ammonium-</text><text class="r" x="794" y="241">messung</text><text class="r" x="794" y="247">(optional)</text>
<g transform="translate(770,254)"><use href="#tg"/><text class="s" x="24" y="5">AIR</text><text class="s" x="24" y="11.5">G-2KA1-AB-BB1-NH901</text></g>
<g transform="translate(770,285)"><use href="#tg"/><text class="s" x="24" y="5">AIR</text><text class="s" x="24" y="11.5">G-2KA1-AB-BB1-TS901</text></g>
<text class="r" x="796" y="303">TS-Messung</text>
<g transform="translate(770,321)"><use href="#tg"/><text class="s" x="24" y="5">NC</text><text class="s" x="24" y="11.5">G-2KA1-AB-R21-PL901-AM01</text></g>
<g transform="translate(770,357)"><use href="#tg"/><text class="s" x="24" y="5">---</text><text class="s" x="24" y="11.5">G-2KA1-AB-BB1-W901</text></g>
<g transform="translate(770,520)"><use href="#tg"/><text class="s" x="24" y="5">---</text><text class="s" x="24" y="11.5">G-2KA1-AB-BB2-W901</text></g>
<g transform="translate(770,551)"><use href="#tg"/><text class="s" x="24" y="5">NC</text><text class="s" x="24" y="11.5">G-2KA1-AB-R22-PL901-AM01</text></g>
<text class="r" x="796" y="586">TS-Messung</text>
<g transform="translate(770,593)"><use href="#tg"/><text class="s" x="24" y="5">AIR</text><text class="s" x="24" y="11.5">G-2KA1-AB-BB2-TS901</text></g>
<g transform="translate(770,621)"><use href="#tg"/><text class="s" x="24" y="5">AIR</text><text class="s" x="24" y="11.5">G-2KA1-AB-BB2-NH901</text></g>
<text class="r" x="796" y="641">Ammonium-</text><text class="r" x="796" y="647">messung</text><text class="r" x="796" y="653">(optional)</text>

<!-- ================= Air distribution ================= -->
<g class="bl">
<path d="M241,639H659M241,916H659"/>
<path d="M410,639V706H659M410,916V984H659"/>
<path d="M505,571V639M505,571H659M606,571V585H659M606,639V653H659"/>
<path d="M505,706V774H659M606,706V720H659M606,774V788H659"/>
<path d="M505,848V916M505,848H659M606,848V862H659M606,916V930H659"/>
<path d="M505,984V1052H659M606,984V998H659M606,1052V1066H659"/>
<path d="M78,1079V990H241M160,990V1079M240,990V1079"/>
<path d="M348,1045H400" marker-end="url(#ab)"/>
</g>
<g class="bl" fill="#fff" style="stroke-width:0.9">
<use href="#vh" x="485" y="639"/><use href="#vh" x="559" y="571"/><use href="#vh" x="559" y="639"/><use href="#vh" x="633" y="571"/><use href="#vh" x="633" y="585"/><use href="#vh" x="633" y="639"/><use href="#vh" x="633" y="653"/>
<use href="#vh" x="485" y="706"/><use href="#vh" x="539" y="706"/><use href="#vh" x="579" y="706"/><use href="#vh" x="579" y="774"/><use href="#vh" x="633" y="706"/><use href="#vh" x="633" y="720"/><use href="#vh" x="633" y="774"/><use href="#vh" x="633" y="788"/>
<use href="#vh" x="485" y="916"/><use href="#vh" x="559" y="848"/><use href="#vh" x="559" y="916"/><use href="#vh" x="633" y="848"/><use href="#vh" x="633" y="862"/><use href="#vh" x="633" y="916"/><use href="#vh" x="633" y="930"/>
<use href="#vh" x="485" y="984"/><use href="#vh" x="539" y="984"/><use href="#vh" x="579" y="984"/><use href="#vh" x="579" y="1052"/><use href="#vh" x="633" y="984"/><use href="#vh" x="633" y="998"/><use href="#vh" x="633" y="1052"/><use href="#vh" x="633" y="1066"/>
<use href="#vv" x="78" y="1017"/><use href="#vv" x="160" y="1017"/><use href="#vv" x="240" y="1017"/>
</g>
<!-- arrows to kaskade boxes -->
<g class="bl" style="stroke-width:0.8">
<path d="M652,571H656M652,585H656M652,639H656M652,653H656M652,706H656M652,720H656M652,774H656M652,788H656M652,848H656M652,862H656M652,916H656M652,930H656M652,984H656M652,998H656M652,1052H656M652,1066H656" marker-end="url(#ab)"/>
</g>
<!-- instrument circles -->
<g fill="#fff" stroke="#5ab4df" stroke-width="0.8">
<circle cx="485" cy="618" r="6.5"/><circle cx="559" cy="592" r="6.5"/><circle cx="559" cy="659" r="6.5"/><circle cx="633" cy="618" r="6.5"/>
<circle cx="485" cy="727" r="6.5"/><circle cx="539" cy="721" r="6.5"/><circle cx="579" cy="727" r="6.5"/><circle cx="579" cy="794" r="6.5"/>
<circle cx="485" cy="896" r="6.5"/><circle cx="559" cy="869" r="6.5"/><circle cx="559" cy="937" r="6.5"/><circle cx="633" cy="896" r="6.5"/>
<circle cx="485" cy="1005" r="6.5"/><circle cx="539" cy="999" r="6.5"/><circle cx="579" cy="1005" r="6.5"/><circle cx="579" cy="1072" r="6.5"/>
<circle cx="78" cy="1051" r="7.5"/><circle cx="160" cy="1051" r="7.5"/><circle cx="240" cy="1051" r="7.5"/><circle cx="340" cy="1045" r="7.5"/>
</g>
<g style="font-size:3.6px;text-anchor:middle;fill:#444">
<text x="485" y="619.5">RA</text><text x="559" y="593.5">MV</text><text x="559" y="660.5">MV</text><text x="633" y="619.5">M</text>
<text x="485" y="728.5">RA</text><text x="539" y="722.5">M</text><text x="579" y="728.5">MV</text><text x="579" y="795.5">MV</text>
<text x="485" y="897.5">RA</text><text x="559" y="870.5">MV</text><text x="559" y="938.5">MV</text><text x="633" y="897.5">M</text>
<text x="485" y="1006.5">RA</text><text x="539" y="1000.5">M</text><text x="579" y="1006.5">MV</text><text x="579" y="1073.5">MV</text>
</g>
<g stroke="#5ab4df" stroke-width="0.8" fill="none">
<path d="M78,1051L72,1047M78,1051L84,1047M78,1051V1058M160,1051L154,1047M160,1051L166,1047M160,1051V1058M240,1051L234,1047M240,1051L246,1047M240,1051V1058M340,1045L334,1041M340,1045L346,1041M340,1045V1052"/>
</g>
<!-- black connection lines air -->
<g class="bk">
<path d="M485,563V611M485,625V633M559,585V577M559,618V598M559,666V675M633,611V645M640,618H648M559,652V645"/>
<path d="M437,625V639M437,706V720M485,734V781M539,714V712M539,728V734M579,720V712M579,734V754M579,787V780M579,801V809"/>
<path d="M485,840V889M485,903V910M559,862V854M559,876V880M559,944V952M559,930V922M633,889V922M640,896H648"/>
<path d="M437,902V916M437,984V998M485,1012V1059M539,992V990M539,1006V1012M579,998V990M579,1012V1032M579,1065V1058M579,1079V1087"/>
<path d="M633,565V571M633,591V594M633,659V663M633,700V706M633,726V728M633,768V774M633,794V796"/>
<path d="M633,842V848M633,868V871M633,936V940M633,978V984M633,1004V1006M633,1046V1052M633,1072V1074"/>
<path d="M78,1017H90M160,1017H172M240,1017H252M84,1051H92M166,1051H172M246,1051H254"/>
<path d="M234,971H241M340,1053V1066M336,978V990"/>
</g>
<g fill="#222"><circle cx="437" cy="639" r="1"/><circle cx="437" cy="706" r="1"/><circle cx="437" cy="916" r="1"/><circle cx="437" cy="984" r="1"/><circle cx="241" cy="971" r="1"/></g>
<!-- kaskade boxes -->
<g fill="#fff" stroke="#444" stroke-width="0.7">
<rect x="660" y="564" width="55" height="27"/><rect x="660" y="632" width="55" height="27"/><rect x="660" y="699" width="55" height="28"/><rect x="660" y="767" width="55" height="27"/>
<rect x="660" y="842" width="55" height="27"/><rect x="660" y="910" width="55" height="27"/><rect x="660" y="978" width="55" height="27"/><rect x="660" y="1045" width="55" height="28"/>
</g>
<g class="k">
<text x="687.5" y="579.5">Kaskade 1.8</text><text x="687.5" y="647.5">Kaskade 1.7</text><text x="687.5" y="712">Kaskade 1.5</text><text x="687.5" y="718">(Wechselzone)</text><text x="687.5" y="782.5">Kaskade 1.6</text>
<text x="687.5" y="857.5">Kaskade 2.8</text><text x="687.5" y="925.5">Kaskade 2.7</text><text x="687.5" y="991">Kaskade 2.5</text><text x="687.5" y="997">(Wechselzone)</text><text x="687.5" y="1061.5">Kaskade 2.6</text>
</g>
<!-- air tags -->
<text class="r" x="485" y="546">Regelarmatur</text>
<g transform="translate(453,550)"><use href="#tg64"/><text class="s" x="32" y="5">YCS</text><text class="s" x="32" y="11.5">G-2KA1-AB-DS1-VC101-AM01</text></g>
<text class="r" x="437" y="603">Luftmengen-</text><text class="r" x="437" y="609">messung</text>
<g transform="translate(413,612)"><use href="#tg"/><text class="s" x="24" y="5">FIRC</text><text class="s" x="24" y="11.5">G-2KA1-AB-BB1-F002</text></g>
<g transform="translate(610,551)"><use href="#tg"/><text class="s" x="24" y="5">---</text><text class="s" x="24" y="11.5">G-2KA1-AB-DS1-W181</text></g>
<g transform="translate(610,594)"><use href="#tg"/><text class="s" x="24" y="5">---</text><text class="s" x="24" y="11.5">G-2KA1-AB-DS1-W182</text></g>
<g transform="translate(531,604)"><use href="#tg64"/><text class="s" x="32" y="5">YS</text><text class="s" x="32" y="11.5">G-2KA1-AB-DS1-VC181-CM01</text></g>
<g transform="translate(648,612)"><use href="#tg64"/><text class="s" x="32" y="5">YS</text><text class="s" x="32" y="11.5">G-2KA1-AB-DS1-W171-AM01</text></g>
<g transform="translate(610,663)"><use href="#tg"/><text class="s" x="24" y="5">---</text><text class="s" x="24" y="11.5">G-2KA1-AB-DS1-W172</text></g>
<g transform="translate(531,675)"><use href="#tg64"/><text class="s" x="32" y="5">YS</text><text class="s" x="32" y="11.5">G-2KA1-AB-DS1-VC171-CM01</text></g>
<g transform="translate(610,687)"><use href="#tg"/><text class="s" x="24" y="5">---</text><text class="s" x="24" y="11.5">G-2KA1-AB-DS1-W151</text></g>
<g transform="translate(413,720)"><use href="#tg"/><text class="s" x="24" y="5">FIRC</text><text class="s" x="24" y="11.5">G-2KA1-AB-BB1-F001</text></g>
<text class="r" x="437" y="741">Luftmengen-</text><text class="r" x="437" y="747">messung</text>
<g transform="translate(511,734)"><use href="#tg64"/><text class="s" x="32" y="5">YS</text><text class="s" x="32" y="11.5">G-2KA1-AB-DS1-W150-AM01</text></g>
<g transform="translate(610,728)"><use href="#tg"/><text class="s" x="24" y="5">---</text><text class="s" x="24" y="11.5">G-2KA1-AB-DS1-W152</text></g>
<g transform="translate(553,754)"><use href="#tg64"/><text class="s" x="32" y="5">YS</text><text class="s" x="32" y="11.5">G-2KA1-AB-DS1-VC151-CM01</text></g>
<g transform="translate(610,753)"><use href="#tg"/><text class="s" x="24" y="5">---</text><text class="s" x="24" y="11.5">G-2KA1-AB-DS1-W161</text></g>
<text class="r" x="434" y="791">Regelarmatur</text>
<g transform="translate(453,781)"><use href="#tg64"/><text class="s" x="32" y="5">YCS</text><text class="s" x="32" y="11.5">G-2KA1-AB-DS1-VC103-AM01</text></g>
<g transform="translate(610,796)"><use href="#tg"/><text class="s" x="24" y="5">---</text><text class="s" x="24" y="11.5">G-2KA1-AB-DS1-W162</text></g>
<g transform="translate(553,809)"><use href="#tg64"/><text class="s" x="32" y="5">YS</text><text class="s" x="32" y="11.5">G-2KA1-AB-DS1-VC161-CM01</text></g>

<text class="r" x="434" y="836">Regelarmatur</text>
<g transform="translate(453,827)"><use href="#tg64"/><text class="s" x="32" y="5">YCS</text><text class="s" x="32" y="11.5">G-2KA1-AB-DS1-VC201-AM01</text></g>
<text class="r" x="437" y="880">Luftmengen-</text><text class="r" x="437" y="886">messung</text>
<g transform="translate(413,889)"><use href="#tg"/><text class="s" x="24" y="5">FIRC</text><text class="s" x="24" y="11.5">G-2KA1-AB-BB2-F002</text></g>
<g transform="translate(610,828)"><use href="#tg"/><text class="s" x="24" y="5">---</text><text class="s" x="24" y="11.5">G-2KA1-AB-DS1-W281</text></g>
<g transform="translate(610,871)"><use href="#tg"/><text class="s" x="24" y="5">---</text><text class="s" x="24" y="11.5">G-2KA1-AB-DS1-W282</text></g>
<g transform="translate(531,880)"><use href="#tg64"/><text class="s" x="32" y="5">YS</text><text class="s" x="32" y="11.5">G-2KA1-AB-DS1-VC281-CM01</text></g>
<g transform="translate(648,889)"><use href="#tg64"/><text class="s" x="32" y="5">YS</text><text class="s" x="32" y="11.5">G-2KA1-AB-DS1-W271-AM01</text></g>
<g transform="translate(610,940)"><use href="#tg"/><text class="s" x="24" y="5">---</text><text class="s" x="24" y="11.5">G-2KA1-AB-DS1-W272</text></g>
<g transform="translate(531,952)"><use href="#tg64"/><text class="s" x="32" y="5">YS</text><text class="s" x="32" y="11.5">G-2KA1-AB-DS1-VC271-CM01</text></g>
<g transform="translate(610,965)"><use href="#tg"/><text class="s" x="24" y="5">---</text><text class="s" x="24" y="11.5">G-2KA1-AB-DS1-W251</text></g>
<g transform="translate(413,998)"><use href="#tg"/><text class="s" x="24" y="5">FIRC</text><text class="s" x="24" y="11.5">G-2KA1-AB-BB2-F001</text></g>
<text class="r" x="437" y="1018">Luftmengen-</text><text class="r" x="437" y="1024">messung</text>
<g transform="translate(511,1012)"><use href="#tg64"/><text class="s" x="32" y="5">YS</text><text class="s" x="32" y="11.5">G-2KA1-AB-DS1-W250-AM01</text></g>
<g transform="translate(610,1006)"><use href="#tg"/><text class="s" x="24" y="5">---</text><text class="s" x="24" y="11.5">G-2KA1-AB-DS1-W252</text></g>
<g transform="translate(553,1032)"><use href="#tg64"/><text class="s" x="32" y="5">YS</text><text class="s" x="32" y="11.5">G-2KA1-AB-DS1-VC251-CM01</text></g>
<g transform="translate(610,1031)"><use href="#tg"/><text class="s" x="24" y="5">---</text><text class="s" x="24" y="11.5">G-2KA1-AB-DS1-W261</text></g>
<g transform="translate(453,1059)"><use href="#tg64"/><text class="s" x="32" y="5">YCS</text><text class="s" x="32" y="11.5">G-2KA1-AB-DS1-VC202-AM01</text></g>
<text class="r" x="485" y="1081">Regelarmatur</text>
<g transform="translate(610,1074)"><use href="#tg"/><text class="s" x="24" y="5">---</text><text class="s" x="24" y="11.5">G-2KA1-AB-DS1-W262</text></g>
<g transform="translate(553,1087)"><use href="#tg64"/><text class="s" x="32" y="5">YS</text><text class="s" x="32" y="11.5">G-2KA1-AB-DS1-VC261-CM01</text></g>

<!-- Gebläseraum -->
<rect x="30" y="957" width="359" height="143" fill="none" stroke="#888" stroke-width="0.8" stroke-dasharray="2,2"/>
<text class="g" x="36" y="964">Gebläseraum</text>
<rect x="23" y="1079" width="259" height="14" fill="#fff" stroke="#5ab4df" stroke-width="0.7"/>
<text class="l" x="152" y="1088">Luftansaugkanal</text>
<text class="r" x="166" y="973">Druckmessung</text>
<g transform="translate(186,965)"><use href="#tg"/><text class="s" x="24" y="5">PIAR</text><text class="s" x="24" y="11.5">G-2KA1-AB-DS1-P001</text></g>
<g transform="translate(312,965)"><use href="#tg"/><text class="s" x="24" y="5">TE</text><text class="s" x="24" y="11.5">G-2KA1-AB-BG1-T002</text></g>
<rect x="322" y="990" width="27" height="14" fill="#fff" stroke="#444" stroke-width="0.6"/>
<text class="r" x="336" y="1012">Raumtemperatur-</text><text class="r" x="336" y="1018">messung</text>
<g transform="translate(90,1011)"><use href="#tg"/><text class="s" x="24" y="5">---</text><text class="s" x="24" y="11.5">G-2KA1-AB-DS1-W001</text></g>
<g transform="translate(172,1011)"><use href="#tg"/><text class="s" x="24" y="5">---</text><text class="s" x="24" y="11.5">G-2KA1-AB-DS1-W002</text></g>
<g transform="translate(252,1011)"><use href="#tg"/><text class="s" x="24" y="5">---</text><text class="s" x="24" y="11.5">G-2KA1-AB-DS1-W003</text></g>
<g transform="translate(91,1045)"><use href="#tg"/><text class="s" x="24" y="5">NC</text><text class="s" x="24" y="11.5">G-2KA1-AB-DS1-P0010-AM01</text></g>
<g transform="translate(172,1045)"><use href="#tg"/><text class="s" x="24" y="5">NC</text><text class="s" x="24" y="11.5">G-2KA1-AB-DS1-P0020-AM01</text></g>
<g transform="translate(254,1045)"><use href="#tg"/><text class="s" x="24" y="5">NC</text><text class="s" x="24" y="11.5">G-2KA1-AB-DS1-P0030-AM01</text></g>
<g transform="translate(314,1066)"><use href="#tg"/><text class="s" x="24" y="5">NC</text><text class="s" x="24" y="11.5">G-2KA1-AB-DS1-P0040-AM01</text></g>
<text class="r" x="342" y="1089">Raumentlüftung</text>

<!-- ================= Legend ================= -->
<rect x="1000" y="855" width="312" height="244" fill="none" stroke="#888" stroke-width="0.8" stroke-dasharray="2,2"/>
<text x="1011" y="872" style="font-size:5px;font-weight:bold;text-decoration:underline">Legende:</text>
<rect x="1013" y="883" width="28" height="7" fill="#7a3a2c"/><rect x="1013" y="903" width="28" height="7" fill="#e62e6a"/><rect x="1013" y="923" width="28" height="7" fill="#40b249"/><rect x="1013" y="943" width="28" height="7" fill="#4aa9e6"/><rect x="1013" y="964" width="28" height="7" fill="#f5bb2f"/>
<rect x="1013" y="983" width="28" height="15" fill="#fff" stroke="#333" stroke-width="0.6"/><rect x="1013" y="1011" width="28" height="15" fill="#fff" stroke="#333" stroke-width="0.6"/>
<line x1="1013" y1="1038" x2="1041" y2="1038" stroke="#333" stroke-width="0.6"/>
<g style="font-size:4.4px;fill:#333">
<text x="1046" y="888">Rücklaufschlamm- und Überschussschlamm</text>
<text x="1046" y="908">Rezirkulation</text><text x="1046" y="928">BioP-Rezirkulation</text><text x="1046" y="948">Luft</text><text x="1046" y="968">Wasserweg</text>
<text x="1046" y="989">Durchflussmessung</text><text x="1046" y="1017">Temperaturmessung</text><text x="1046" y="1044">Sonstige Messtechnik</text><text x="1046" y="1057">Rührwerk</text><text x="1046" y="1091">Rückschlagklappe</text>
<text x="1210" y="888">Pumpe</text><text x="1210" y="915">Gebläse bzw. Lüfter</text><text x="1210" y="942">Kompressor</text><text x="1210" y="969">Handschieber bzw. Handklappe</text><text x="1210" y="989">Pneumatikschieber</text><text x="1210" y="1010">Schieber bzw. Klappe mit E-Antrieb</text><text x="1210" y="1044">Regelarmatur</text><text x="1210" y="1077">Magnetventil</text>
</g>
<g class="bk" style="stroke-width:0.8">
<circle cx="1189" cy="889" r="6"/><path d="M1181,889H1183M1195,889H1197"/>
<circle cx="1189" cy="916" r="6"/><path d="M1189,916L1184,913M1189,916L1194,913M1189,916V922M1181,916H1183"/>
<circle cx="1189" cy="944" r="6"/><path d="M1181,944H1183"/>
<use href="#vh" x="1189" y="967"/>
<circle cx="1189" cy="1012" r="5"/><use href="#vh" x="1189" y="1025"/><line x1="1189" y1="1017" x2="1189" y2="1021"/>
<circle cx="1189" cy="1045" r="5"/><use href="#vh" x="1189" y="1058"/><line x1="1189" y1="1050" x2="1189" y2="1054"/>
<circle cx="1189" cy="1079" r="5"/><use href="#vh" x="1189" y="1092"/><line x1="1189" y1="1084" x2="1189" y2="1088"/>
<circle cx="1025" cy="1056" r="6"/><line x1="1025" y1="1062" x2="1025" y2="1068"/><path d="M1025,1068L1014,1064Q1011,1068 1014,1072Z M1025,1068L1036,1064Q1039,1068 1036,1072Z"/>
<path d="M1022,1090V1085L1029,1090V1085"/>
</g>
<use href="#vh" x="1189" y="988" fill="#3e6f9f" stroke="#3e6f9f"/>
<circle cx="1041" cy="1038" r="0.9" fill="#222"/>
<g style="font-size:3.2px;text-anchor:middle;fill:#444"><text x="1189" y="1013">M</text><text x="1189" y="1046">RA</text><text x="1189" y="1080">MV</text></g>

<!-- ================= Title block ================= -->
<g fill="none" stroke="#444" stroke-width="0.8">
<rect x="1325" y="855" width="231" height="258"/>
<line x1="1325" y1="909" x2="1556" y2="909"/><line x1="1325" y1="964" x2="1556" y2="964"/><line x1="1325" y1="1018" x2="1556" y2="1018"/><line x1="1325" y1="1058" x2="1556" y2="1058"/>
<line x1="1325" y1="1100" x2="1556" y2="1100"/>
</g>
<g stroke="#666" stroke-width="0.4">
<line x1="1325" y1="1063" x2="1556" y2="1063"/><line x1="1325" y1="1069" x2="1556" y2="1069"/><line x1="1325" y1="1076" x2="1556" y2="1076"/><line x1="1325" y1="1082" x2="1556" y2="1082"/><line x1="1325" y1="1088" x2="1556" y2="1088"/><line x1="1325" y1="1094" x2="1556" y2="1094"/>
<line x1="1461" y1="1058" x2="1461" y2="1100"/><line x1="1486" y1="1058" x2="1486" y2="1100"/><line x1="1511" y1="1058" x2="1511" y2="1100"/><line x1="1536" y1="1058" x2="1536" y2="1100"/>
</g>
<g style="font-size:4.6px;fill:#222">
<text x="1331" y="866">Auftraggeber:</text><text x="1444" y="867" style="font-size:4px">Stadtwerke</text>
<text x="1331" y="920">Planung:</text><text x="1331" y="974">Projekt:</text><text x="1331" y="1027">Plan:</text>
</g>
<g style="font-size:3.6px;fill:#333">
<text x="1422" y="917">Trauth &amp; Jacobs Ingenieurgesellschaft mbH</text>
<text x="1422" y="924">für Planung von EMSR- und Abwasserverfahrenstechnik</text>
<text x="1422" y="931">Freinsheimer Straße 69A</text><text x="1422" y="938">67169 Kallstadt</text>
<text x="1422" y="951">Tel.: 0 63 22 / 650 276</text><text x="1422" y="958">Fax: 0 63 22 / 650 278</text>
</g>
<!-- logo -->
<rect x="1380" y="914" width="12" height="5" fill="#2a7d87"/>
<rect x="1384" y="914" width="5" height="28" fill="#2a7d87"/>
<path d="M1395,918h5v18q0,6 -6,6h-6v-4h5q2,0 2,-3Z" fill="#2a7d87"/>
<circle cx="1379" cy="933" r="1.3" fill="#222"/><circle cx="1403" cy="943" r="1.3" fill="#222"/>
<rect x="1373" y="949" width="41" height="6" fill="#333"/><text x="1393.5" y="953.5" style="font-size:3px;fill:#fff;text-anchor:middle">TRAUTH &amp; JACOBS</text>
<g style="text-anchor:middle;font-weight:bold;fill:#111">
<text x="1438" y="979" style="font-size:7px">KA 15-09</text>
<text x="1440" y="997" style="font-size:6.4px">Modernisierung Biologischen Reinigung</text>
<text x="1441" y="1033" style="font-size:6px">Ausführungsplanung – Anhang 28</text>
<text x="1436" y="1050" style="font-size:5.8px">R&amp;I-Schema Biologische Reinigung Kläranlage</text>
</g>
<g style="font-size:2.2px;fill:#444">
<text x="1375" y="1062" style="text-anchor:middle">Bemerkung / Änderung</text><text x="1466" y="1062">Datum</text><text x="1489" y="1062">Bearbeiter</text><text x="1515" y="1062">Geprüft</text><text x="1539" y="1062">Version</text>
<text x="1327" y="1067.5">Erstellung Dokument</text><text x="1464" y="1067.5">18.04.2016</text><text x="1490" y="1067.5">Rudolph</text><text x="1515" y="1067.5">Rudolph</text><text x="1543" y="1067.5">1.0</text>
<text x="1327" y="1073.5">Überarbeitung Dokument, Einfügung BKZ-Bezeichnungen</text><text x="1464" y="1073.5">21.05.2016</text><text x="1490" y="1073.5">Rudolph</text><text x="1515" y="1073.5">Rudolph</text><text x="1543" y="1073.5">1.1</text>
<text x="1440" y="1107" style="text-anchor:middle;font-size:1.8px">S:\PROJEKTE\KA15-09\AUSFÜHRUNGSPLANUNG\ANHANG 28 R&amp;I-SCHEMA BIOLOGISCHE REINIGUNG KLÄRANLAGE</text>
</g>
</svg>
</body></html>
